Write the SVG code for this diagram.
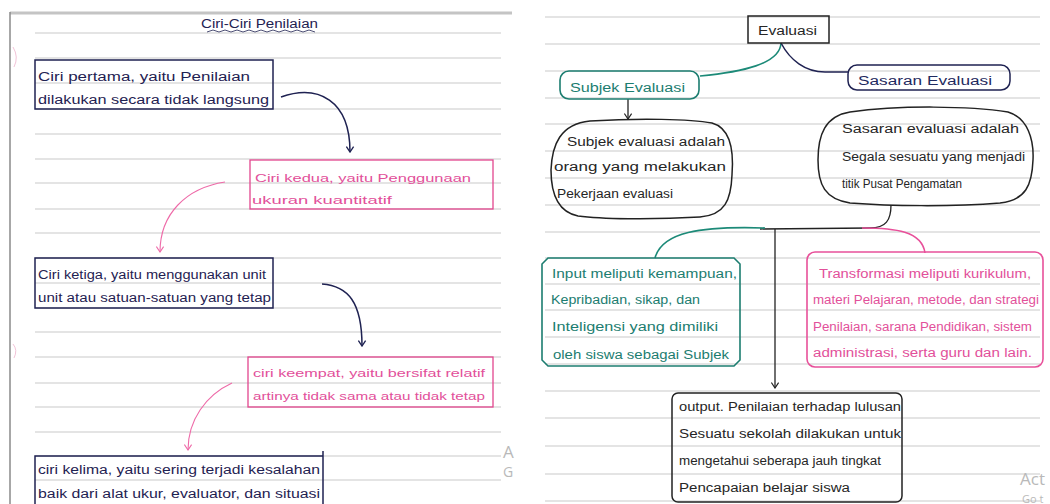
<svg xmlns="http://www.w3.org/2000/svg" width="1050" height="504" viewBox="0 0 1050 504">
<style>
.rule{stroke:#c9c9c9;stroke-width:1}
.t{font-family:"Liberation Sans","DejaVu Sans",sans-serif;font-size:12.5px}
.navy{fill:#1f2252}
.pink{fill:#e2509a}
.blk{fill:#262626}
.teal{fill:#1c7d70}
.sb{fill:#1f2a60}
.wm{font-family:"Open Sans","Liberation Sans",sans-serif;fill:#b9b9b9}
.bn{fill:none;stroke:#1f2252;stroke-width:1.5}
.bp{fill:none;stroke:#e2468e;stroke-width:1.3}
.bk{fill:none;stroke:#222;stroke-width:1.5}
.bt{fill:none;stroke:#1c7d70;stroke-width:1.6}
.cn{fill:none;stroke:#1f2252;stroke-width:1.5}
.cp{fill:none;stroke:#ee6aa8;stroke-width:1.1}
.ck{fill:none;stroke:#222;stroke-width:1.3}
.ct{fill:none;stroke:#1c8a78;stroke-width:1.6}
.cpk{fill:none;stroke:#e8509a;stroke-width:1.6}
</style>
<defs>
<marker id="ahn" viewBox="0 0 10 10" refX="5" refY="9" markerWidth="9" markerHeight="9" markerUnits="userSpaceOnUse" orient="0"><path d="M1,3 L5,9 L9,3" fill="none" stroke="#1f2252" stroke-width="1.5"/></marker>
<marker id="ahp" viewBox="0 0 10 10" refX="5" refY="9" markerWidth="9" markerHeight="9" markerUnits="userSpaceOnUse" orient="0"><path d="M1,3 L5,9 L9,3" fill="none" stroke="#ee6aa8" stroke-width="1.2"/></marker>
<marker id="ahk" viewBox="0 0 10 10" refX="5" refY="9" markerWidth="9" markerHeight="9" markerUnits="userSpaceOnUse" orient="0"><path d="M1,3 L5,9 L9,3" fill="none" stroke="#222" stroke-width="1.3"/></marker>
</defs>
<rect width="1050" height="504" fill="#ffffff"/>
<g id="left-page">
<line x1="10" y1="13" x2="512" y2="13" stroke="#c4c4c4" stroke-width="3"/>
<line x1="10" y1="12" x2="10" y2="504" stroke="#8a8a8a" stroke-width="1.5"/>
<g class="rule">
<line x1="35" y1="33" x2="501" y2="33"/><line x1="35" y1="58" x2="501" y2="58"/>
<line x1="35" y1="83" x2="501" y2="83"/><line x1="35" y1="109" x2="501" y2="109"/>
<line x1="35" y1="134" x2="501" y2="134"/><line x1="35" y1="159" x2="501" y2="159"/>
<line x1="35" y1="183" x2="501" y2="183"/><line x1="35" y1="209" x2="501" y2="209"/>
<line x1="35" y1="233" x2="501" y2="233"/><line x1="35" y1="258" x2="501" y2="258"/>
<line x1="35" y1="283" x2="501" y2="283"/><line x1="35" y1="308" x2="501" y2="308"/>
<line x1="35" y1="332" x2="501" y2="332"/><line x1="35" y1="357" x2="501" y2="357"/>
<line x1="35" y1="383" x2="501" y2="383"/><line x1="35" y1="407" x2="501" y2="407"/>
<line x1="35" y1="432" x2="501" y2="432"/><line x1="35" y1="456" x2="501" y2="456"/>
<line x1="35" y1="480" x2="501" y2="480"/>
</g>
<path d="M13,47 Q19,57 14,67" fill="none" stroke="#f2c4d8" stroke-width="1"/>
<path d="M13,344 Q18,350 14,358" fill="none" stroke="#f2c4d8" stroke-width="1"/>
</g>
<g id="right-page" class="rule">
<line x1="545" y1="17" x2="1040" y2="17"/><line x1="545" y1="44" x2="1040" y2="44"/>
<line x1="545" y1="71" x2="1040" y2="71"/><line x1="545" y1="98" x2="1040" y2="98"/>
<line x1="545" y1="124" x2="1040" y2="124"/><line x1="545" y1="151" x2="1040" y2="151"/>
<line x1="545" y1="178" x2="1040" y2="178"/><line x1="545" y1="205" x2="1040" y2="205"/>
<line x1="545" y1="232" x2="1040" y2="232"/><line x1="545" y1="258" x2="1040" y2="258"/>
<line x1="545" y1="284" x2="1040" y2="284"/><line x1="545" y1="310" x2="1040" y2="310"/>
<line x1="545" y1="337" x2="1040" y2="337"/><line x1="545" y1="364" x2="1040" y2="364"/>
<line x1="545" y1="391" x2="1040" y2="391"/><line x1="545" y1="418" x2="1040" y2="418"/>
<line x1="545" y1="446" x2="1040" y2="446"/><line x1="545" y1="474" x2="1040" y2="474"/>
<line x1="545" y1="501" x2="1040" y2="501"/>
</g>

<g id="connectors">
<path class="cn" d="M281,97 C318,84 350,100 350,152" marker-end="url(#ahn)"/>
<path class="cp" d="M225,182 C186,188 160,214 160,252" marker-end="url(#ahp)"/>
<path class="cn" d="M322,284 C348,286 362,302 362,346" marker-end="url(#ahn)"/>
<path class="cp" d="M232,383 C206,395 188,420 188,450" marker-end="url(#ahp)"/>
<path class="ct" d="M781,43 C780,64 742,72 700,76"/>
<path class="cn" d="M781,43 C790,60 805,72 825,72 L849,72"/>
<path class="ck" d="M628,99 L628,119" marker-end="url(#ahk)"/>
<path class="ck" d="M891,205 C891,220 886,228 870,228 L760,229"/>
<path class="ct" d="M765,228 C700,226 662,232 655,258"/>
<path class="cpk" d="M862,228 C895,228 922,231 925,253"/>
<path class="ck" d="M775,229 L775,388" marker-end="url(#ahk)"/>
</g>

<g id="title">
<text class="t navy" x="201" y="28" textLength="117" lengthAdjust="spacingAndGlyphs" style="font-size:12px">Ciri-Ciri  Penilaian</text>
<path d="M207,32 l6,-2 l6,2 l6,-2 l6,2 l6,-2 l6,2 l6,-2 l6,2 l6,-2 l6,2 l6,-2 l6,2 l6,-2 l6,2 l6,-2 l6,2 l6,-2 l6,2" fill="none" stroke="#1f2252" stroke-width="0.8"/>
</g>
<g id="ciri1">
<rect class="bn" x="35" y="60" width="238" height="49"/>
<text class="t navy" x="38" y="81" textLength="212" lengthAdjust="spacingAndGlyphs">Ciri pertama, yaitu Penilaian</text>
<text class="t navy" x="38" y="104" textLength="231" lengthAdjust="spacingAndGlyphs">dilakukan secara tidak langsung</text>
</g>
<g id="ciri2">
<rect class="bp" x="250" y="160" width="243" height="49"/>
<text class="t pink" x="255" y="182" textLength="216" lengthAdjust="spacingAndGlyphs" style="font-size:11.5px">Ciri kedua, yaitu Penggunaan</text>
<text class="t pink" x="252" y="204" textLength="140" lengthAdjust="spacingAndGlyphs" style="font-size:11.5px">ukuran kuantitatif</text>
</g>
<g id="ciri3">
<rect class="bn" x="35" y="258" width="238" height="50"/>
<text class="t navy" x="38" y="279" textLength="228" lengthAdjust="spacingAndGlyphs">Ciri ketiga, yaitu menggunakan unit</text>
<text class="t navy" x="38" y="302" textLength="233" lengthAdjust="spacingAndGlyphs">unit atau satuan-satuan yang tetap</text>
</g>
<g id="ciri4">
<rect class="bp" x="248" y="357" width="245" height="50"/>
<text class="t pink" x="253" y="377" textLength="232" lengthAdjust="spacingAndGlyphs" style="font-size:11.5px">ciri keempat, yaitu bersifat relatif</text>
<text class="t pink" x="253" y="400" textLength="232" lengthAdjust="spacingAndGlyphs" style="font-size:11.5px">artinya tidak sama atau tidak tetap</text>
</g>
<g id="ciri5">
<path class="bn" d="M35,510 L35,456 L323,456 L323,510 M323,456 L323,451"/>
<text class="t navy" x="38" y="474" textLength="282" lengthAdjust="spacingAndGlyphs">ciri kelima, yaitu sering terjadi kesalahan</text>
<text class="t navy" x="38" y="498" textLength="282" lengthAdjust="spacingAndGlyphs">baik dari alat ukur, evaluator, dan situasi</text>
</g>

<g id="evaluasi">
<rect class="bk" x="748" y="16" width="81" height="27" fill="#fff"/>
<text class="t blk" x="758" y="35" textLength="59" lengthAdjust="spacingAndGlyphs">Evaluasi</text>
</g>
<g id="subjek-evaluasi">
<rect class="bt" x="560" y="71" width="139" height="28" rx="9"/>
<text class="t teal" x="570" y="92" textLength="115" lengthAdjust="spacingAndGlyphs">Subjek Evaluasi</text>
</g>
<g id="sasaran-evaluasi">
<rect class="bn" x="848" y="65" width="162" height="25" rx="9"/>
<text class="t sb" x="858" y="85" textLength="134" lengthAdjust="spacingAndGlyphs">Sasaran Evaluasi</text>
</g>
<g id="subjek-def">
<path class="bk" d="M590,121 C640,118 690,119 712,123 C730,128 734,150 732,175 C731,200 725,215 700,217 C650,220 600,219 578,216 C558,212 551,195 551,170 C552,145 560,124 590,121 Z"/>
<text class="t blk" x="567" y="146" textLength="158" lengthAdjust="spacingAndGlyphs">Subjek evaluasi adalah</text>
<text class="t blk" x="554" y="171" textLength="172" lengthAdjust="spacingAndGlyphs">orang yang melakukan</text>
<text class="t blk" x="557" y="198" textLength="116" lengthAdjust="spacingAndGlyphs">Pekerjaan evaluasi</text>
</g>
<g id="sasaran-def">
<path class="bk" d="M850,112 C900,105 970,106 1008,112 C1028,118 1034,140 1033,160 C1032,185 1026,200 1000,203 C950,207 890,206 850,203 C825,199 818,185 818,160 C818,135 825,116 850,112 Z"/>
<text class="t blk" x="842" y="133" textLength="177" lengthAdjust="spacingAndGlyphs">Sasaran evaluasi adalah</text>
<text class="t blk" x="842" y="161" textLength="183" lengthAdjust="spacingAndGlyphs">Segala sesuatu yang menjadi</text>
<text class="t blk" x="842" y="188" textLength="120" lengthAdjust="spacingAndGlyphs">titik Pusat Pengamatan</text>
</g>
<g id="input">
<path class="bt" d="M548,258 L734,258 L740,264 L740,360 L734,366 L548,366 L542,360 L542,264 Z"/>
<text class="t teal" x="552" y="278" textLength="185" lengthAdjust="spacingAndGlyphs">Input meliputi kemampuan,</text>
<text class="t teal" x="551" y="304" textLength="149" lengthAdjust="spacingAndGlyphs">Kepribadian, sikap, dan</text>
<text class="t teal" x="552" y="331" textLength="166" lengthAdjust="spacingAndGlyphs">Inteligensi yang dimiliki</text>
<text class="t teal" x="553" y="359" textLength="176" lengthAdjust="spacingAndGlyphs">oleh siswa sebagai Subjek</text>
</g>
<g id="transformasi">
<rect class="cpk" x="807" y="252" width="236" height="115" rx="8"/>
<text class="t pink" x="819" y="278" textLength="212" lengthAdjust="spacingAndGlyphs">Transformasi meliputi kurikulum,</text>
<text class="t pink" x="813" y="304" textLength="226" lengthAdjust="spacingAndGlyphs">materi Pelajaran, metode, dan strategi</text>
<text class="t pink" x="813" y="331" textLength="219" lengthAdjust="spacingAndGlyphs">Penilaian, sarana Pendidikan, sistem</text>
<text class="t pink" x="813" y="357" textLength="219" lengthAdjust="spacingAndGlyphs">administrasi, serta guru dan lain.</text>
</g>
<g id="output">
<rect class="bk" x="672" y="393" width="230" height="109" rx="6"/>
<text class="t blk" x="679" y="411" textLength="222" lengthAdjust="spacingAndGlyphs">output. Penilaian terhadap lulusan</text>
<text class="t blk" x="679" y="438" textLength="222" lengthAdjust="spacingAndGlyphs">Sesuatu sekolah dilakukan untuk</text>
<text class="t blk" x="679" y="465" textLength="202" lengthAdjust="spacingAndGlyphs">mengetahui seberapa jauh tingkat</text>
<text class="t blk" x="679" y="492" textLength="171" lengthAdjust="spacingAndGlyphs">Pencapaian belajar siswa</text>
</g>

<g id="watermark">
<text class="wm" x="503" y="458" style="font-size:17px">A</text>
<text class="wm" x="503" y="477" style="font-size:14px">G</text>
<text class="wm" x="1020" y="485" style="font-size:17px">Act</text>
<text class="wm" x="1022" y="503" style="font-size:11px">Go t</text>
</g>
</svg>
